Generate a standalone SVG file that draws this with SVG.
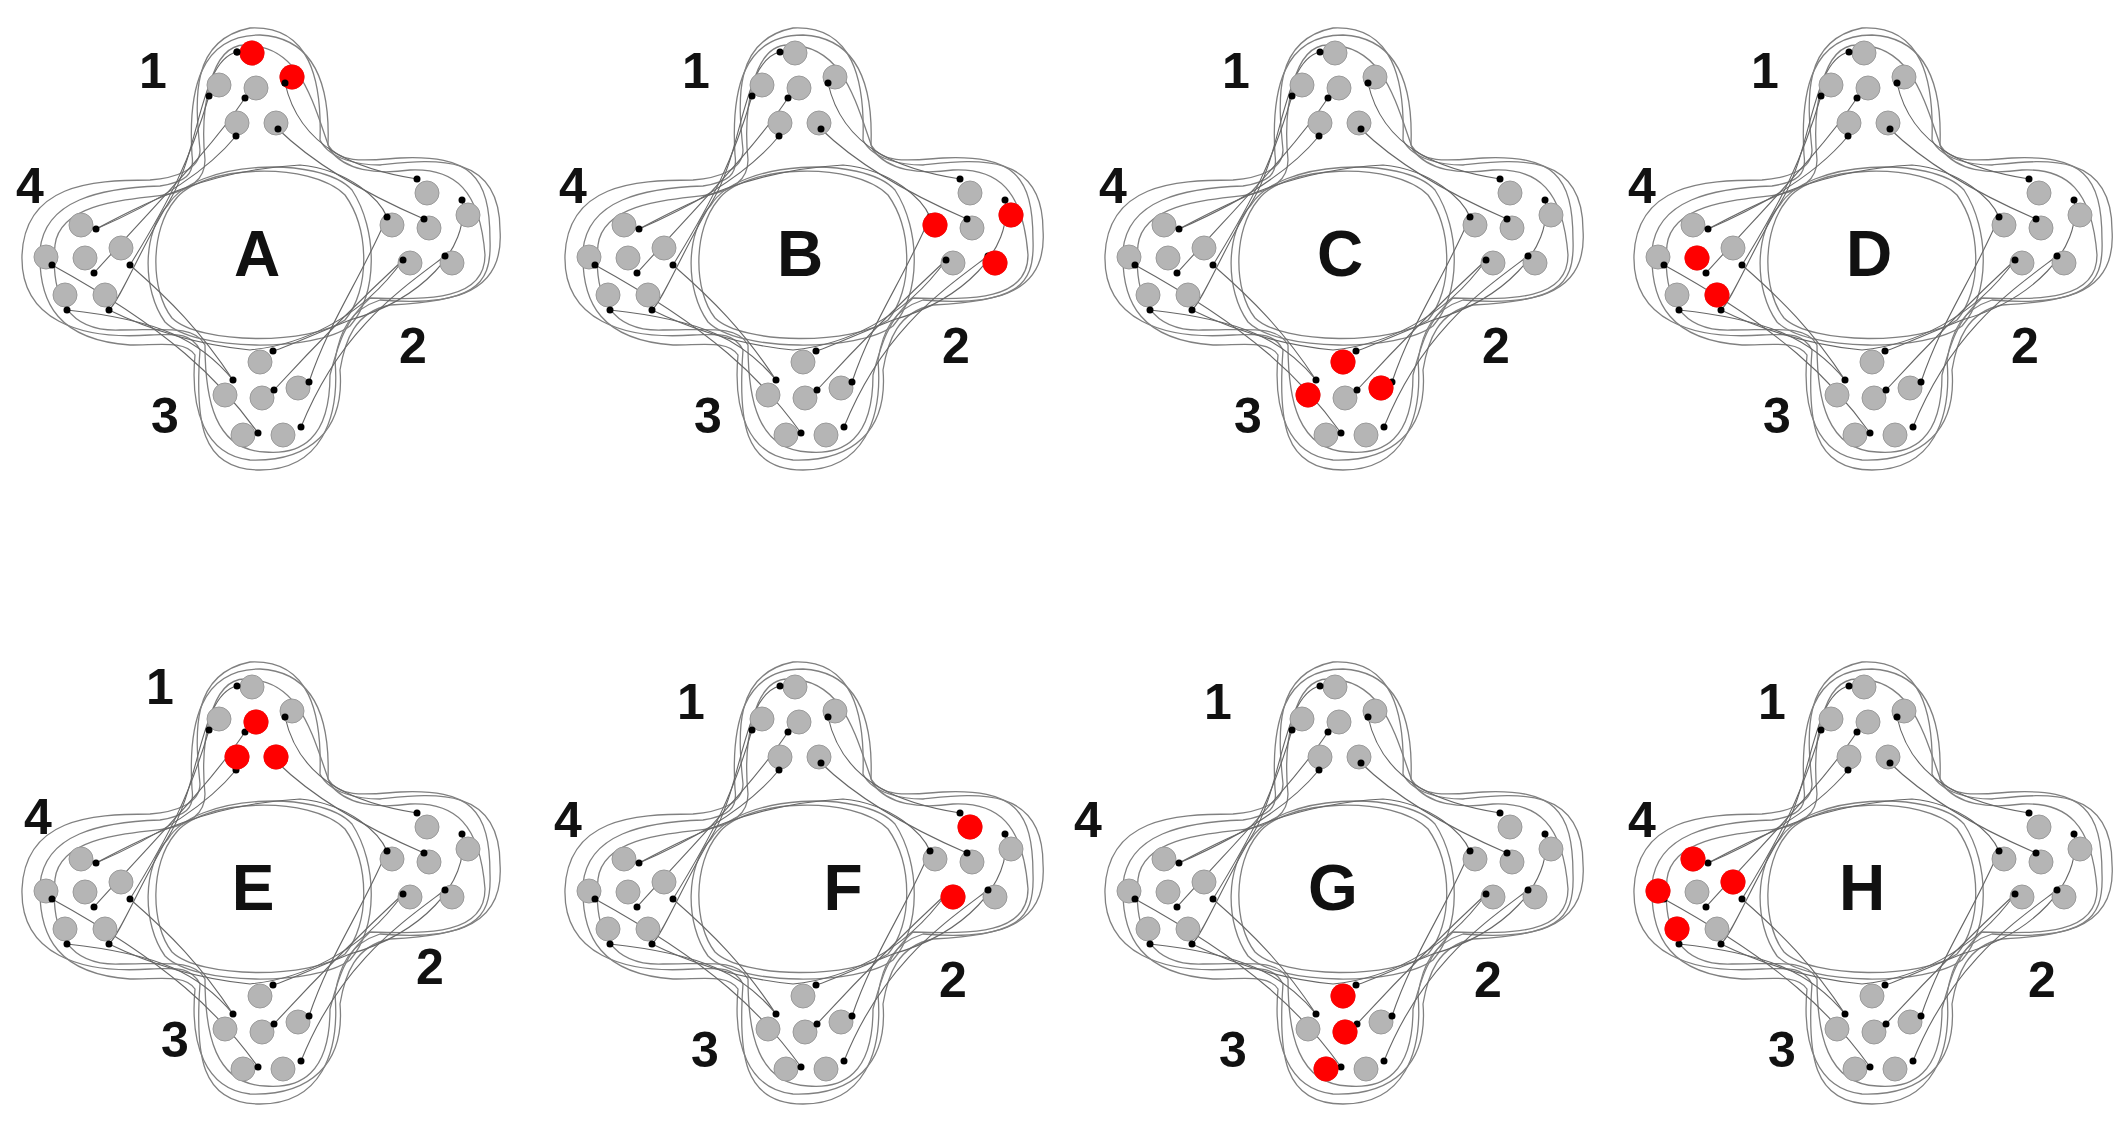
<svg xmlns="http://www.w3.org/2000/svg" xmlns:xlink="http://www.w3.org/1999/xlink" width="2126" height="1142" viewBox="0 0 2126 1142">
<style>
.o{fill:none;stroke:#808080;stroke-width:1.3}
.w{fill:none;stroke:#666;stroke-width:1.1}
.g{fill:#b5b5b5;stroke:#9a9a9a;stroke-width:1}
.r{fill:#ff0000}
.d{fill:#000}
.n{font-family:"Liberation Sans",Arial,sans-serif;font-weight:bold;font-size:50px;fill:#111;text-anchor:middle}
.L{font-family:"Liberation Sans",Arial,sans-serif;font-weight:bold;font-size:64px;fill:#111;text-anchor:middle}
</style>
<rect width="2126" height="1142" fill="#fff"/>
<defs>
<g id="panel">
<g id="connectors">
<path class="o" d="M200,150 C195,100 190,40 250,28 C310,25 322,80 320,140 C330,160 360,165 380,165 C430,160 500,150 500,230 C505,300 440,305 380,300 C350,310 340,330 335,360 C340,420 320,470 260,470 C200,470 195,420 200,350 C190,330 170,335 150,335 C80,340 20,320 22,255 C25,185 90,180 150,180 C175,178 200,170 200,150 Z"/>
<path class="o" d="M192,155 C188,90 200,35 260,35 C318,38 330,90 328,145 C340,165 370,160 400,158 C470,155 490,175 490,240 C492,290 470,300 390,305 C355,312 345,340 340,370 C345,430 310,462 250,460 C205,455 190,410 195,355 C185,340 160,345 130,345 C60,340 38,305 40,250 C45,200 100,188 160,186 C185,182 195,175 192,155 Z"/>
<path class="o" d="M205,160 C200,110 210,45 245,45 C300,45 312,100 330,150 C345,170 375,175 410,170 C455,168 480,190 485,255 C485,300 430,300 370,298 C345,320 338,345 330,375 C330,440 300,455 265,452 C215,450 205,400 205,345 C195,325 165,330 120,330 C70,332 50,300 55,245 C60,205 120,200 165,195 C190,190 205,180 205,160 Z"/>
<path class="o" d="M175,200 C200,165 310,160 345,195 C370,230 370,290 345,320 C310,345 200,345 172,318 C150,290 150,230 175,200 Z"/>
<path class="o" d="M168,205 C195,160 320,155 352,190 C378,230 378,295 350,326 C315,352 195,352 165,322 C142,290 142,232 168,205 Z"/>
<path class="w" d="M209,96 C190,160 170,200 130,265"/>
<path class="w" d="M245,98 C210,150 160,200 94,273"/>
<path class="w" d="M236,136 C200,180 140,210 96,229"/>
<path class="w" d="M278,129 C320,170 380,200 424,219"/>
<path class="w" d="M285,83 C300,150 360,170 417,179"/>
<path class="w" d="M237,52 C200,60 200,150 170,200 C140,250 120,300 109,310"/>
<path class="w" d="M387,217 C360,280 330,320 309,382"/>
<path class="w" d="M403,260 C360,300 320,340 274,390"/>
<path class="w" d="M445,256 C400,290 340,330 301,427"/>
<path class="w" d="M462,200 C470,250 420,300 350,320 C300,340 280,350 273,351"/>
<path class="w" d="M233,380 C200,340 160,320 67,310"/>
<path class="w" d="M258,433 C220,380 170,330 52,265"/>
<path class="w" d="M130,265 C170,300 200,330 233,380"/>
<path class="w" d="M109,310 C150,330 200,345 250,350 C300,345 360,320 403,260"/>
<path class="w" d="M96,229 C150,200 210,170 300,165 C350,170 380,200 387,217"/>
</g>
<g class="g">
<circle cx="252" cy="53" r="12"/><circle cx="292" cy="77" r="12"/><circle cx="219" cy="85" r="12"/><circle cx="256" cy="88" r="12"/><circle cx="237" cy="123" r="12"/><circle cx="276" cy="123" r="12"/>
<circle cx="427" cy="193" r="12"/><circle cx="468" cy="215" r="12"/><circle cx="392" cy="225" r="12"/><circle cx="429" cy="228" r="12"/><circle cx="410" cy="263" r="12"/><circle cx="452" cy="263" r="12"/>
<circle cx="260" cy="362" r="12"/><circle cx="225" cy="395" r="12"/><circle cx="262" cy="398" r="12"/><circle cx="298" cy="388" r="12"/><circle cx="243" cy="435" r="12"/><circle cx="283" cy="435" r="12"/>
<circle cx="81" cy="225" r="12"/><circle cx="46" cy="257" r="12"/><circle cx="85" cy="258" r="12"/><circle cx="121" cy="248" r="12"/><circle cx="65" cy="295" r="12"/><circle cx="105" cy="295" r="12"/>
</g>
<g class="d">
<circle cx="237" cy="52" r="3.5"/><circle cx="285" cy="83" r="3.5"/><circle cx="209" cy="96" r="3.5"/><circle cx="245" cy="98" r="3.5"/><circle cx="236" cy="136" r="3.5"/><circle cx="278" cy="129" r="3.5"/>
<circle cx="417" cy="179" r="3.5"/><circle cx="462" cy="200" r="3.5"/><circle cx="387" cy="217" r="3.5"/><circle cx="424" cy="219" r="3.5"/><circle cx="403" cy="260" r="3.5"/><circle cx="445" cy="256" r="3.5"/>
<circle cx="273" cy="351" r="3.5"/><circle cx="233" cy="380" r="3.5"/><circle cx="274" cy="390" r="3.5"/><circle cx="309" cy="382" r="3.5"/><circle cx="258" cy="433" r="3.5"/><circle cx="301" cy="427" r="3.5"/>
<circle cx="96" cy="229" r="3.5"/><circle cx="52" cy="265" r="3.5"/><circle cx="94" cy="273" r="3.5"/><circle cx="130" cy="265" r="3.5"/><circle cx="67" cy="310" r="3.5"/><circle cx="109" cy="310" r="3.5"/>
</g>
</g>
</defs>
<g id="panel-A">
<use xlink:href="#panel" href="#panel"/>
<circle class="r" cx="252" cy="53" r="12.5"/><circle class="r" cx="292" cy="77" r="12.5"/>
<circle class="d" cx="237" cy="52" r="3.5"/><circle class="d" cx="285" cy="83" r="3.5"/>
<text class="n" x="153" y="88">1</text><text class="n" x="30" y="203">4</text><text class="n" x="413" y="363">2</text><text class="n" x="165" y="433">3</text>
<text class="L" x="257" y="276">A</text>
</g>
<g id="panel-B" transform="translate(543,0)">
<use xlink:href="#panel" href="#panel"/>
<circle class="r" cx="392" cy="225" r="12.5"/><circle class="r" cx="468" cy="215" r="12.5"/><circle class="r" cx="452" cy="263" r="12.5"/>
<text class="n" x="153" y="88">1</text><text class="n" x="30" y="203">4</text><text class="n" x="413" y="363">2</text><text class="n" x="165" y="433">3</text>
<text class="L" x="257" y="276">B</text>
</g>
<g id="panel-C" transform="translate(1083,0)">
<use xlink:href="#panel" href="#panel"/>
<circle class="r" cx="260" cy="362" r="12.5"/><circle class="r" cx="225" cy="395" r="12.5"/><circle class="r" cx="298" cy="388" r="12.5"/>
<text class="n" x="153" y="88">1</text><text class="n" x="30" y="203">4</text><text class="n" x="413" y="363">2</text><text class="n" x="165" y="433">3</text>
<text class="L" x="257" y="276">C</text>
</g>
<g id="panel-D" transform="translate(1612,0)">
<use xlink:href="#panel" href="#panel"/>
<circle class="r" cx="85" cy="258" r="12.5"/><circle class="r" cx="105" cy="295" r="12.5"/>
<text class="n" x="153" y="88">1</text><text class="n" x="30" y="203">4</text><text class="n" x="413" y="363">2</text><text class="n" x="165" y="433">3</text>
<text class="L" x="257" y="276">D</text>
</g>
<g id="panel-E" transform="translate(0,634)">
<use xlink:href="#panel" href="#panel"/>
<circle class="r" cx="256" cy="88" r="12.5"/><circle class="r" cx="237" cy="123" r="12.5"/><circle class="r" cx="276" cy="123" r="12.5"/>
<text class="n" x="160" y="70">1</text><text class="n" x="38" y="200">4</text><text class="n" x="430" y="350">2</text><text class="n" x="175" y="423">3</text>
<text class="L" x="253" y="276">E</text>
</g>
<g id="panel-F" transform="translate(543,634)">
<use xlink:href="#panel" href="#panel"/>
<circle class="r" cx="427" cy="193" r="12.5"/><circle class="r" cx="410" cy="263" r="12.5"/>
<text class="n" x="148" y="85">1</text><text class="n" x="25" y="203">4</text><text class="n" x="410" y="363">2</text><text class="n" x="162" y="433">3</text>
<text class="L" x="300" y="276">F</text>
</g>
<g id="panel-G" transform="translate(1083,634)">
<use xlink:href="#panel" href="#panel"/>
<circle class="r" cx="260" cy="362" r="12.5"/><circle class="r" cx="262" cy="398" r="12.5"/><circle class="r" cx="243" cy="435" r="12.5"/>
<text class="n" x="135" y="85">1</text><text class="n" x="5" y="203">4</text><text class="n" x="405" y="363">2</text><text class="n" x="150" y="433">3</text>
<text class="L" x="250" y="276">G</text>
</g>
<g id="panel-H" transform="translate(1612,634)">
<use xlink:href="#panel" href="#panel"/>
<circle class="r" cx="81" cy="225" r="12.5"/><circle class="r" cx="121" cy="248" r="12.5"/><circle class="r" cx="46" cy="257" r="12.5"/><circle class="r" cx="65" cy="295" r="12.5"/>
<text class="n" x="160" y="85">1</text><text class="n" x="30" y="203">4</text><text class="n" x="430" y="363">2</text><text class="n" x="170" y="433">3</text>
<text class="L" x="250" y="276">H</text>
</g>
</svg>
